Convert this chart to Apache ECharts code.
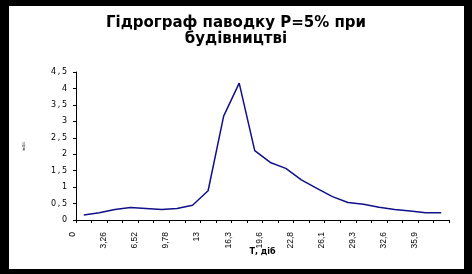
<!DOCTYPE html>
<html><head><meta charset="utf-8">
<script src="https://cdn.jsdelivr.net/npm/echarts@6/dist/echarts.min.js"></script>
<style>html,body{margin:0;padding:0;background:#000}#c{width:472px;height:274px}</style>
</head><body><div id="c"></div>
<script>
const titleText = 'Гідрограф паводку P=5% при\nбудівництві';
const xName = 'Т, діб';
const yName = 'м3/с';
const categories = ['0','1,63','3,26','4,89','6,52','8,15','9,78','11,4','13','14,7','16,3','17,9','19,6','21,2','22,8','24,5','26,1','27,7','29,3','31','32,6','34,2','35,9','37,5'];
const discharge = [0.15,0.22,0.32,0.38,0.35,0.32,0.35,0.45,0.89,3.16,4.16,2.11,1.75,1.57,1.22,0.96,0.71,0.53,0.48,0.39,0.32,0.27,0.22,0.22];

const chart = echarts.init(document.getElementById('c'), null, {renderer:'canvas'});
chart.setOption({
  backgroundColor:'#000',
  animation:false,
  graphic:[{type:'rect', shape:{x:9,y:6,width:455,height:263}, style:{fill:'#fff'}, z:-10, silent:true}],
  title:{text:titleText, left:'center', top:10, textStyle:{fontFamily:'DejaVu Sans', fontWeight:'bold', fontSize:15, lineHeight:16, color:'#000'}},
  grid:{left:76, right:23, top:72, bottom:54},
  xAxis:{type:'category', data:categories, boundaryGap:true,
    name:xName, nameLocation:'middle', nameGap:28, nameMoveOverlap:false,
    nameTextStyle:{fontFamily:'DejaVu Sans', fontWeight:'bold', fontSize:8, color:'#000'},
    axisLine:{lineStyle:{color:'#000', width:1}},
    axisTick:{show:true, length:3, interval:0, lineStyle:{color:'#000'}},
    axisLabel:{interval:1, rotate:90, margin:12, fontFamily:'Liberation Sans Narrow, Liberation Sans', fontSize:8.5, color:'#000', lineHeight:22, verticalAlign:'bottom'},
    splitLine:{show:false}},
  yAxis:{type:'value', min:0, max:4.5, interval:0.5,
    name:yName, nameLocation:'middle', nameRotate:90, nameGap:50, nameMoveOverlap:false,
    nameTextStyle:{fontFamily:'DejaVu Sans', fontSize:4, color:'#000'},
    axisLine:{show:true, lineStyle:{color:'#000', width:1}},
    axisTick:{show:true, length:3, lineStyle:{color:'#000'}},
    axisLabel:{margin:9, fontFamily:'DejaVu Sans', fontSize:8, color:'#000',
      formatter:v=>String(v).replace('.',',').split('').join('\u2009')},
    splitLine:{show:false}},
  series:[{type:'line', data:discharge, showSymbol:false, symbol:'none',
    lineStyle:{color:'#10108a', width:1.5}}]
});
</script></body></html>
